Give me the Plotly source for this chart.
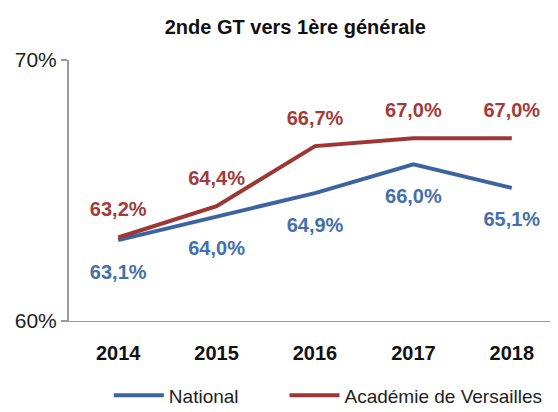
import plotly.graph_objects as go

years = ["2014", "2015", "2016", "2017", "2018"]
national = [63.1, 64.0, 64.9, 66.0, 65.1]
versailles = [63.2, 64.4, 66.7, 67.0, 67.0]
title = "2nde GT vers 1ère générale"

blue = "#3c65a0"
red = "#9e3636"
blue_txt = "#4470aa"
red_txt = "#a33b3b"
FONT = "Liberation Sans, Arial, sans-serif"

def fr(v):
    return "<b>" + f"{v:.1f}".replace(".", ",") + "%</b>"

fig = go.Figure()
fig.add_trace(go.Scatter(x=years, y=national, mode="lines", name="National",
                         line=dict(color=blue, width=4), legend="legend"))
fig.add_trace(go.Scatter(x=years, y=versailles, mode="lines", name="Académie de Versailles",
                         line=dict(color=red, width=4), legend="legend2"))
# data labels
fig.add_trace(go.Scatter(x=years, y=national, mode="markers+text", showlegend=False,
                         hoverinfo="skip", text=[fr(v) for v in national],
                         textposition="bottom center",
                         marker=dict(size=36, color="rgba(0,0,0,0)"),
                         textfont=dict(family=FONT, size=20, color=blue_txt)))
fig.add_trace(go.Scatter(x=years, y=versailles, mode="markers+text", showlegend=False,
                         hoverinfo="skip", text=[fr(v) for v in versailles],
                         textposition="top center",
                         marker=dict(size=24, color="rgba(0,0,0,0)"),
                         textfont=dict(family=FONT, size=20, color=red_txt)))

leg_common = dict(orientation="h", xanchor="left", y=-0.285, yanchor="middle",
                  font=dict(family=FONT, size=19, color="#222"), itemwidth=50,
                  bgcolor="rgba(0,0,0,0)")

fig.update_layout(
    width=558, height=412,
    margin=dict(l=61, r=5, t=52, b=97),
    paper_bgcolor="white", plot_bgcolor="white",
    font=dict(family=FONT, color="#222"),
    title=dict(text="<b>" + title + "</b>", x=0.515, xanchor="center", y=0.955, yanchor="middle",
               font=dict(family=FONT, size=20, color="#111")),
    showlegend=True,
    legend=dict(x=0.081, **leg_common),
    legend2=dict(x=0.438, **leg_common),
    xaxis=dict(type="category", range=[-0.5, 4.5], showgrid=False, zeroline=False,
               showline=True, linecolor="#999", linewidth=1, ticks="outside", ticklen=14,
               tickcolor="rgba(0,0,0,0)",
               tickvals=years, ticktext=["<b>" + y + "</b>" for y in years],
               tickfont=dict(family=FONT, size=20, color="#111")),
    yaxis=dict(range=[60, 70], tickvals=[60, 70], ticktext=["60%", "70%"],
               showgrid=False, zeroline=False,
               showline=True, linecolor="#999", linewidth=2, ticks="outside", ticklen=6,
               tickcolor="#999", tickwidth=2,
               tickfont=dict(family=FONT, size=21, color="#222")),
)

fig.write_html("out.html")
